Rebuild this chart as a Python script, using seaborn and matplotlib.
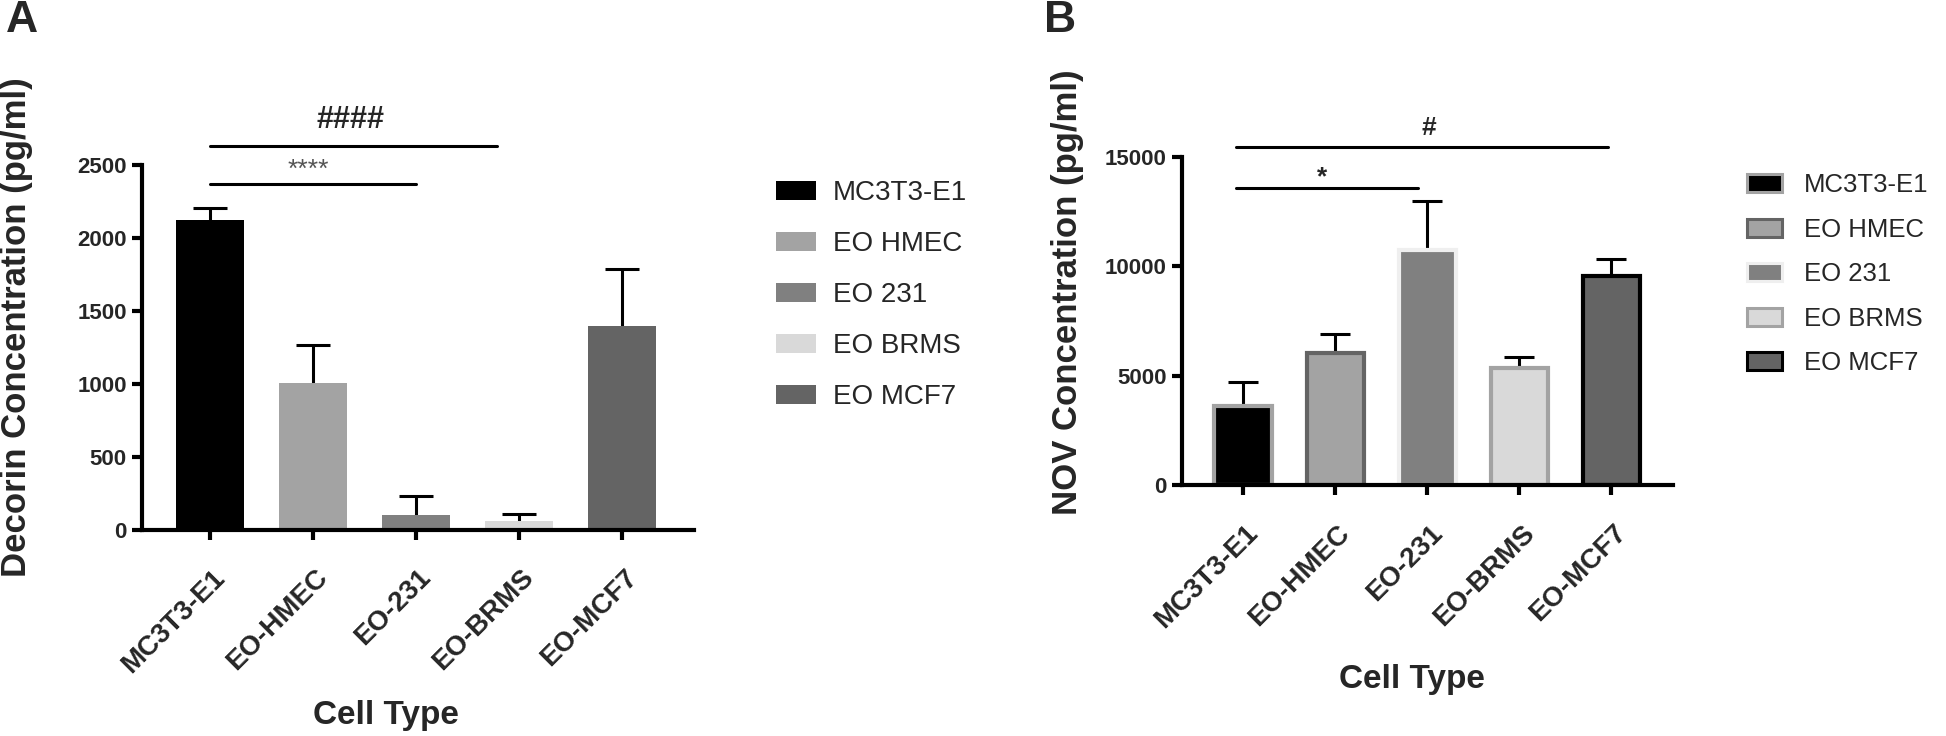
import numpy as np
import matplotlib
matplotlib.use("Agg")
from matplotlib import pyplot as plt
from matplotlib.patches import Patch
import matplotlib.transforms as mtransforms
import seaborn as sns

# data
cells = ["MC3T3-E1", "EO-HMEC", "EO-231", "EO-BRMS", "EO-MCF7"]
legend_labels = ["MC3T3-E1", "EO HMEC", "EO 231", "EO BRMS", "EO MCF7"]

decorin_mean = [2120, 1010, 103, 60, 1400]
decorin_err = [85, 257, 130, 47, 390]

nov_mean = [3620, 6050, 10730, 5370, 9540]
nov_err = [1080, 855, 2260, 470, 795]

decorin_colors = ["#000000", "#a3a3a3", "#808080", "#d9d9d9", "#646464"]
nov_face = ["#000000", "#a3a3a3", "#808080", "#d9d9d9", "#646464"]
nov_edge = ["#a3a3a3", "#646464", "#efefef", "#a3a3a3", "#000000"]

sns.set_style("ticks")
plt.rcParams["font.family"] = ["Liberation Sans", "DejaVu Sans"]


def style_axis(ax, ymax, step, xlim):
    sns.despine(ax=ax)
    for s in ["left", "bottom"]:
        ax.spines[s].set_linewidth(3)
        ax.spines[s].set_color("black")
    ax.set_ylim(0, ymax)
    ax.set_yticks(np.arange(0, ymax + 1, step))
    ax.set_xlim(*xlim)
    ax.tick_params(axis="y", length=7, width=3, labelsize=16, pad=4, color="black")
    ax.tick_params(axis="x", length=7, width=3, pad=18, color="black")
    for lab in ax.get_yticklabels():
        lab.set_fontweight("bold")
    ax.set_xticks(range(len(cells)))
    ax.set_xticklabels(cells, rotation=45, ha="right", va="top",
                       rotation_mode="anchor", fontsize=20, fontweight="bold")
    off = mtransforms.ScaledTranslation(0.02, 0, ax.figure.dpi_scale_trans)
    for lab in ax.get_xticklabels():
        lab.set_transform(lab.get_transform() + off)
    ax.set_xlabel("")
    ax.set_ylabel("")


def upper_errors(ax, means, errs, capsize):
    eb = ax.errorbar(np.arange(len(means)), means,
                     yerr=[np.zeros(len(means)), errs], fmt="none",
                     ecolor="black", elinewidth=2.2, capsize=capsize,
                     capthick=2.2, zorder=0.9)
    # only the upper cap is wanted
    eb[1][0].set_visible(False)


fig = plt.figure(figsize=(19.46, 7.36), dpi=100)

# panel A
axA = fig.add_axes([0.0730, 0.2799, 0.2837, 0.4959])
sns.barplot(x=cells, y=decorin_mean, hue=cells, palette=decorin_colors,
            width=0.66, saturation=1, legend=False, errorbar=None,
            linewidth=0, ax=axA)
upper_errors(axA, decorin_mean, decorin_err, 12)
style_axis(axA, 2500, 500, (-0.66, 4.70))

axA.plot([0, 2], [2370, 2370], color="black", lw=2.2, clip_on=False)
axA.plot([0, 2.79], [2630, 2630], color="black", lw=2.2, clip_on=False)
axA.text(0.95, 2418, "****", ha="center", va="baseline", fontsize=19, color="#555555")
axA.text(1.36, 2753, "####", ha="center", va="baseline", fontsize=22, fontweight="bold")

fig.text(17 / 1946, 1 - 327 / 736, "Decorin Concentration (pg/ml)", rotation=90,
         ha="center", va="center", fontsize=25, fontweight="bold")
fig.text(386 / 1946, 1 - 724 / 736, "Cell Type", ha="center", va="baseline",
         fontsize=24, fontweight="bold")
fig.text(22 / 1946, 1 - 21 / 736, "A", ha="center", va="center", fontsize=32, fontweight="bold")

handlesA = [Patch(facecolor=c, edgecolor="none") for c in decorin_colors]
fig.legend(handlesA, legend_labels, loc="upper left", bbox_to_anchor=(776 / 1946, 1 - 180 / 736),
           frameon=False, fontsize=20, borderpad=0, borderaxespad=0,
           handlelength=1.44, handleheight=0.65, handletextpad=0.61, labelspacing=0.9)

# panel B
axB = fig.add_axes([0.6074, 0.341, 0.2523, 0.4457])
sns.barplot(x=cells, y=nov_mean, hue=cells, palette=nov_face,
            width=0.62, saturation=1, legend=False, errorbar=None,
            linewidth=3, ax=axB)
for cont, ec in zip(axB.containers, nov_edge):
    for bar in cont:
        bar.set_edgecolor(ec)
        bar.set_linewidth(3)
upper_errors(axB, nov_mean, nov_err, 10.5)
style_axis(axB, 15000, 5000, (-0.663, 4.67))

axB.plot([-0.08, 3.96], [15443, 15443], color="black", lw=2.2, clip_on=False)
axB.plot([-0.08, 1.9], [13596, 13596], color="black", lw=2.2, clip_on=False)
axB.text(0.86, 13750, "*", ha="center", va="baseline", fontsize=19, fontweight="bold")
axB.text(2.02, 16005, "#", ha="center", va="baseline", fontsize=19, fontweight="bold")

fig.text(1067 / 1946, 1 - 292 / 736, "NOV Concentration (pg/ml)", rotation=90,
         ha="center", va="center", fontsize=25, fontweight="bold")
fig.text(1412 / 1946, 1 - 688 / 736, "Cell Type", ha="center", va="baseline",
         fontsize=24, fontweight="bold")
fig.text(1060 / 1946, 1 - 21 / 736, "B", ha="center", va="center", fontsize=32, fontweight="bold")

handlesB = [Patch(facecolor=f, edgecolor=e, linewidth=2.2) for f, e in zip(nov_face, nov_edge)]
fig.legend(handlesB, legend_labels, loc="upper left", bbox_to_anchor=(1747 / 1946, 1 - 173 / 736),
           frameon=False, fontsize=18.5, borderpad=0, borderaxespad=0,
           handlelength=1.36, handleheight=0.7, handletextpad=0.85, labelspacing=0.8)

fig.savefig("out.png", dpi=100)
